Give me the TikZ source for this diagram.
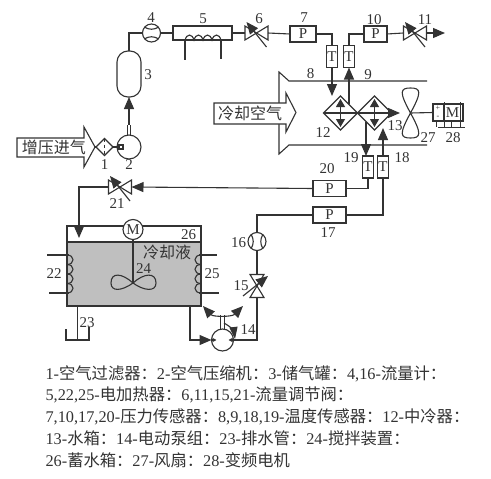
\documentclass[tikz,border=0pt]{standalone}
\usepackage{fontspec}
\setmainfont{Liberation Serif}
\newfontfamily\cjk{Noto Sans CJK SC}
\usetikzlibrary{arrows.meta,calc,shapes.geometric}
\definecolor{inkgray}{HTML}{333333}
\definecolor{coolant}{HTML}{BFBFBF}
\tikzset{
  numlbl/.style={font=\fontsize{15}{15}\selectfont, inner sep=0pt},
  zhlbl/.style={font=\fontsize{16}{16}\selectfont\cjk, inner sep=0pt},
  legend/.style={font=\fontsize{16.3}{16.3}\selectfont, inner sep=0pt, anchor=west},
  sensorp/.style={draw, fill=white, minimum width=33pt, minimum height=16pt, inner sep=0pt, outer sep=0pt, font=\fontsize{15}{15}\selectfont},
  sensort/.style={draw, fill=white, minimum width=11pt, minimum height=22pt, inner sep=0pt, outer sep=0pt, font=\fontsize{15}{15}\selectfont},
  meter/.style={draw, fill=white, circle, minimum size=18pt, inner sep=0pt, outer sep=0pt},
  valvebox/.style={minimum width=23pt, minimum height=14pt, inner sep=0pt, outer sep=0pt},
  flowtip/.style={-{Triangle[length=12pt,width=10pt]}},
  smalltip/.style={-{Triangle[length=4pt,width=4pt]}},
  valve/.pic={
    \draw (0,0) -- (-11.5,-7) -- (-11.5,7) -- cycle;
    \draw (0,0) -- (11.5,-7) -- (11.5,7) -- cycle;
    \draw[flowtip] (10,14) -- (-10,-11);
  }
}
\begin{document}
\begin{tikzpicture}[x=1pt,y=-1pt,line width=1.1pt,color=inkgray]
\useasboundingbox (0,0) rectangle (491,479);
% air side
\draw[fill=white] (17,138) -- (84,138) -- (84,127) -- (95,147) -- (84,167) -- (84,157) -- (17,157) -- cycle;
\node[zhlbl] (airin) at (54,147.5) {增压进气};
\node[draw, fill=white, diamond, minimum width=17pt, minimum height=17pt, inner sep=0pt, outer sep=0pt] (filter) at (104.5,147) {};
\draw[dashed, line width=0.7pt] (filter.north) -- (filter.south);
\draw (95,147) -- (filter.west);
\node[meter, minimum size=24pt] (comp) at (129,147) {};
\node[draw, minimum size=4pt, inner sep=0pt, outer sep=0pt] (compin) at (121,147) {};
\draw (filter.east) -- (compin.west);
\node[draw, fill=white, rounded corners=11pt, minimum width=24pt, minimum height=46pt, inner sep=0pt, outer sep=0pt] (tank3) at (129,74) {};
\coordinate (compout) at (129,125);
\draw[line width=0.8pt] (127.3,125) -- (127.3,135) (130.7,125) -- (130.7,135);
\draw[flowtip] (compout) -- (tank3.south);
\node[meter] (flow4) at (151.5,33) {};
\draw (flow4.140) to[bend right=30] (flow4.40);
\draw (flow4.220) to[bend left=30] (flow4.320);
\draw (tank3.north) |- (flow4.west);
\node[draw, fill=white, minimum width=59pt, minimum height=14pt, inner sep=0pt, outer sep=0pt] (heat5) at (202.5,33) {};
\draw (flow4.east) -- (heat5.west);
\foreach \i in {185,194,203,212}
  \draw (\i,41) .. controls (\i+1,33) and (\i+8,33) .. (\i+9,41);
\draw (185,41) -- (185,60);
\draw (221,41) -- (221,59);
\node[valvebox] (v6) at (256.5,33) {};
\pic at (v6) {valve};
\draw (heat5.east) -- (v6.west);
\node[sensorp, minimum width=26pt] (p7) at (303,34) {P};
\draw (v6.east) -- (p7.west);
\node[sensort] (t8) at (332,56.5) {T};
\draw (p7.east) -| (t8.north);
\node[sensort] (t9) at (349,56.5) {T};
\node[sensorp, minimum width=23pt] (p10) at (375.5,34) {P};
\draw (t9.north) |- (p10.west);
\node[valvebox] (v11) at (415,33) {};
\pic at (v11) {valve};
\draw (p10.east) -- (v11.west);
\coordinate (airout) at (445,33);
\draw[flowtip] (v11.east) -- (airout);
% duct
\draw (427,81) -- (289,81) -- (279,72) -- (279,154) -- (289,145) -- (427,145);
\draw[fill=white] (214,103) -- (286,103) -- (286,93) -- (296,112.5) -- (286,132) -- (286,124) -- (214,124) -- cycle;
\node[zhlbl] (coolair) at (250,113.5) {冷却空气};
% heat exchangers
\node[draw, diamond, minimum width=34pt, minimum height=34pt, inner sep=0pt, outer sep=0pt] (hx12) at (340.5,113) {};
\node[draw, diamond, minimum width=34pt, minimum height=34pt, inner sep=0pt, outer sep=0pt] (hx13) at (374.5,113) {};
\draw (hx12.west) -- (hx13.east);
\foreach \h in {hx12,hx13}
  \draw[{Triangle[length=8pt,width=9pt]}-{Triangle[length=8pt,width=9pt]}] ($(\h.north)+(0,3)$) -- ($(\h.south)+(0,-3)$);
\coordinate (watout) at (400,113);
\draw[flowtip] (hx13.east) -- (watout);
\draw[flowtip] (t8.south) -- (332,96);
\draw[flowtip] (349,104) -- (t9.south);
% fan and motor
\coordinate (fanhub) at (410.5,113);
\draw (fanhub) .. controls (399,92) and (400,88) .. (410.5,88) .. controls (421,88) and (422,92) .. (fanhub)
  .. controls (399,134) and (400,138) .. (410.5,138) .. controls (421,138) and (422,134) .. (fanhub);
\node[draw, minimum width=30pt, minimum height=17pt, inner sep=0pt, outer sep=0pt] (motor28) at (448,112.5) {};
\draw (fanhub) -- (motor28.west);
\node[numlbl] (mletter) at (452.5,113) {M};
\draw[line width=0.8pt] (443,104) -- (443,121);
\node[font=\fontsize{8}{8}\selectfont, inner sep=0pt] (plus) at (438,108) {+};
\node[font=\fontsize{8}{8}\selectfont, inner sep=0pt] (minus) at (438,117) {-};
\draw[line width=0.8pt] (438,127) -- (465,127) (444,102) -- (444,127) (460,102) -- (460,127) (436,121) -- (436,127) (451,121) -- (451,127);
% lower sensors
\node[sensort] (t19) at (368,167) {T};
\node[sensort] (t18) at (383,167) {T};
\coordinate (out19) at (366,122);
\draw[flowtip] (out19) -- (366,156);
\draw[flowtip] (t18.north) -- (383,128);
\node[sensorp] (p20) at (329.5,188.5) {P};
\node[sensorp] (p17) at (329.5,215) {P};
\draw (p20.east) -| (t19.south);
\draw (p17.east) -| (t18.south);
% coolant tank
\node[draw, fill=white, minimum width=134pt, minimum height=80pt, inner sep=0pt, outer sep=0pt] (tank26) at (134,266) {};
\draw[fill=coolant] (67,242) rectangle (201,306);
\node[meter, minimum size=20pt, font=\fontsize{15}{15}\selectfont] (mix) at (133,229.5) {M};
\coordinate (hub) at (133,283);
\draw (mix.south) -- (hub);
\draw (hub) .. controls (122,273) and (111,272) .. (111,283) .. controls (111,292) and (122,291) .. (hub)
  .. controls (144,273) and (156,272) .. (156,283) .. controls (156,292) and (144,291) .. (hub);
\foreach \i in {255,264.5,274,283.5}
  \draw (67,\i) .. controls (75,\i) and (75,\i+9.5) .. (67,\i+9.5);
\foreach \i in {255,264.5,274,283.5}
  \draw (201,\i) .. controls (193,\i) and (193,\i+9.5) .. (201,\i+9.5);
\draw (47,255) -- (69,255) (49,293) -- (69,293) (199,255) -- (217,255) (199,293) -- (219,293);
\draw (77.5,306) -- (77.5,340) (66,329) -- (66,340) -- (89,340) -- (89,327);
% coolant loop
\node[valvebox] (v21) at (120,187) {};
\pic at (v21) {valve};
\draw[flowtip] (p20.west) -- (v21.east);
\draw[flowtip] (v21.west) -| (79,238);
\node[meter, minimum size=22pt] (pump) at (222.5,340) {};
\draw[flowtip] (190,306) |- (pump.west);
\draw[smalltip] (pump.west) -- +(5,0);
\draw[smalltip] (pump.east) -- +(-5,0);
\node[meter] (flow16) at (257,241.5) {};
\draw (flow16.130) to[bend left=30] (flow16.230);
\draw (flow16.50) to[bend right=30] (flow16.310);
\draw (p17.west) -| (flow16.north);
\node[valvebox, minimum width=14pt, minimum height=23pt] (v15) at (257,286) {};
\pic[rotate=-90] at (v15) {valve};
\draw (flow16.south) -- (v15.north);
\draw (v15.south) |- (pump.east);
\draw[line width=0.8pt] (220.5,315) -- (220.5,329) (224.5,315) -- (224.5,329);
\draw[{Triangle[length=12pt,width=10pt]}-{Triangle[length=12pt,width=10pt]}] (203,306) .. controls (213,317) and (232,317) .. (243,306);
\draw[-{Triangle[length=12pt,width=8pt]}] (224,323) .. controls (231,327) and (234,331) .. (235,339);
% number labels
\foreach \n/\x/\y in {1/104.5/165,2/129/165,3/148/75,4/151/18,5/203/19,6/259/19,7/304/18,8/310.5/74,9/368/75,10/374/20,11/425/20,12/323/133,13/395/126,14/248/330,15/241/286,16/238.5/243,17/328/233,18/402/158,19/351/158,20/327/169,21/117/204,22/54/274,23/87/323,24/143.5/269,25/212/274,26/188.5/235,27/428/138,28/453/138}
  \node[numlbl] (lab\n) at (\x,\y) {\n};
\node[zhlbl] (liquid) at (167,252) {冷却液};
% legend
\node[legend] (leg1) at (45,373.5) {1-{\cjk 空气过滤器：}2-{\cjk 空气压缩机：}3-{\cjk 储气罐：}4,16-{\cjk 流量计：}};
\node[legend] (leg2) at (45,395) {5,22,25-{\cjk 电加热器：}6,11,15,21-{\cjk 流量调节阀：}};
\node[legend] (leg3) at (45,416.5) {7,10,17,20-{\cjk 压力传感器：}8,9,18,19-{\cjk 温度传感器：}12-{\cjk 中冷器：}};
\node[legend] (leg4) at (45,438) {13-{\cjk 水箱：}14-{\cjk 电动泵组：}23-{\cjk 排水管：}24-{\cjk 搅拌装置：}};
\node[legend] (leg5) at (45,460) {26-{\cjk 蓄水箱：}27-{\cjk 风扇：}28-{\cjk 变频电机}};
\end{tikzpicture}
\end{document}
